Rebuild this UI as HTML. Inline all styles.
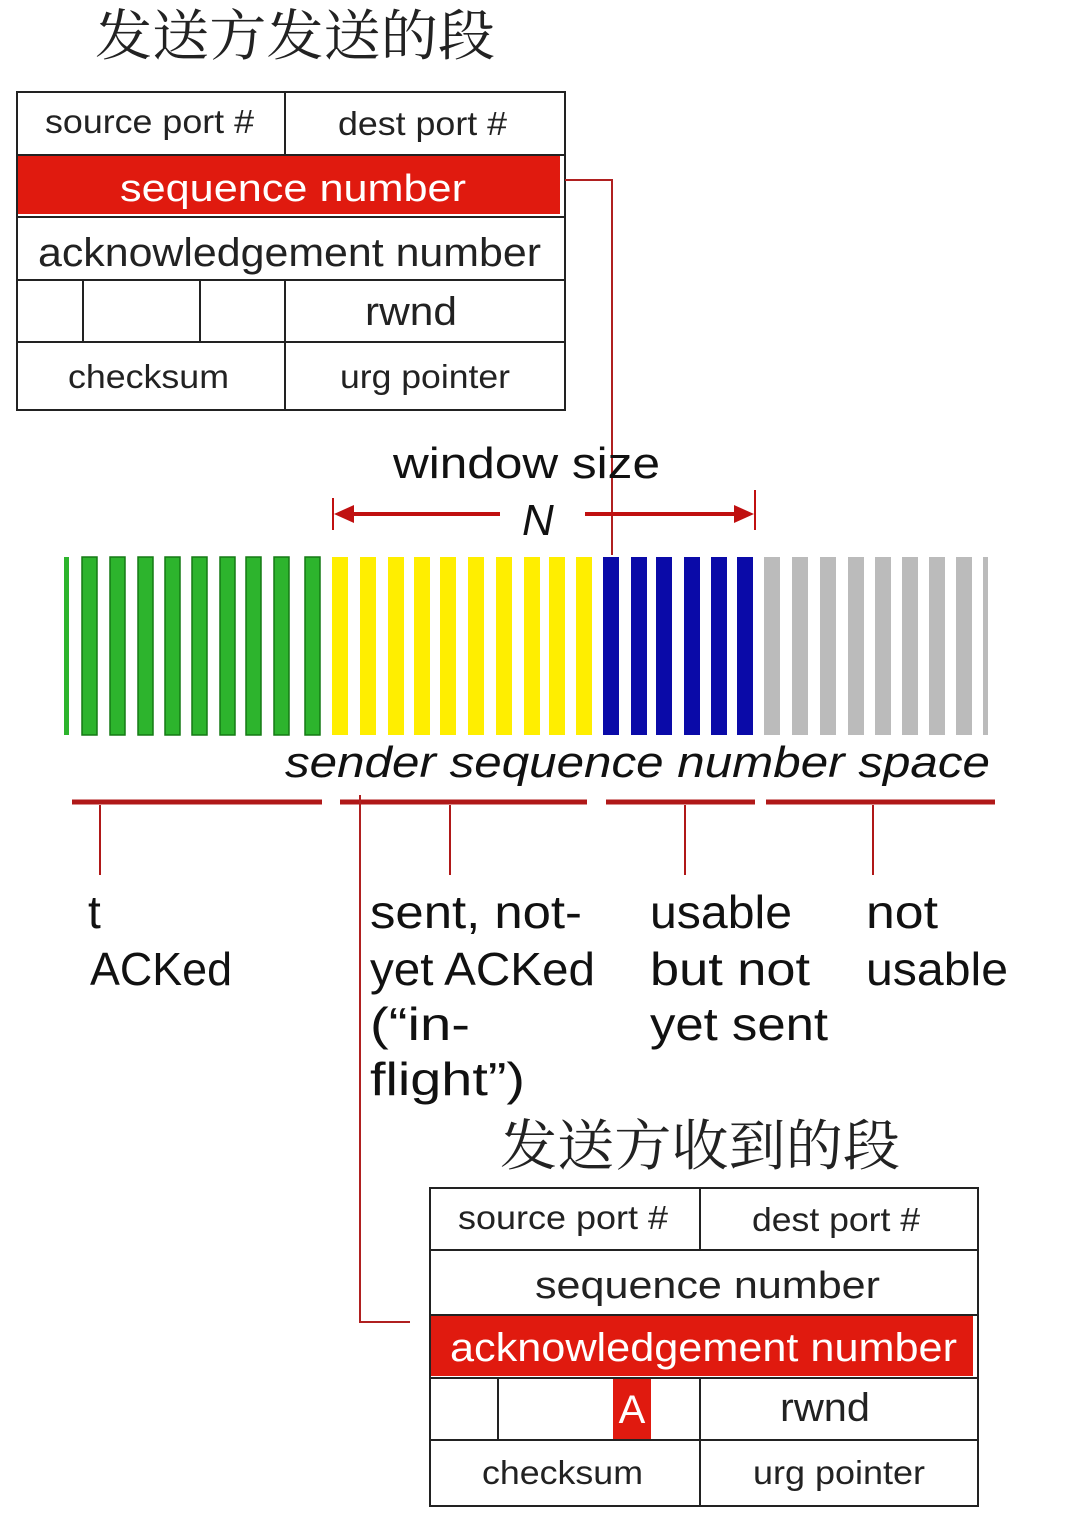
<!DOCTYPE html>
<html><head><meta charset="utf-8"><style>
body{margin:0;background:#fff;}
svg{display:block}
text{font-family:"Liberation Sans","Noto Sans CJK SC",sans-serif;}
</style></head><body>
<svg width="1076" height="1520" viewBox="0 0 1076 1520" xmlns="http://www.w3.org/2000/svg">
<text x="95" y="55" font-size="55" fill="#222" textLength="400" lengthAdjust="spacingAndGlyphs" style="font-family:'Noto Serif CJK SC',serif">发送方发送的段</text>
<!-- top table -->
<g stroke="#222" stroke-width="2" fill="none">
<rect x="17" y="92" width="548" height="318"/>
<line x1="17" y1="155" x2="565" y2="155"/><line x1="17" y1="217" x2="565" y2="217"/>
<line x1="17" y1="280" x2="565" y2="280"/><line x1="17" y1="342" x2="565" y2="342"/>
<line x1="285" y1="92" x2="285" y2="155"/><line x1="285" y1="280" x2="285" y2="410"/>
<line x1="83" y1="280" x2="83" y2="342"/><line x1="200" y1="280" x2="200" y2="342"/>
</g>
<rect x="18" y="156" width="542" height="58" fill="#e01a0f"/>
<g font-size="33" fill="#222" lengthAdjust="spacingAndGlyphs">
<text x="45" y="133" textLength="209" lengthAdjust="spacingAndGlyphs">source port #</text>
<text x="338" y="135" textLength="169" lengthAdjust="spacingAndGlyphs">dest port #</text>
<text x="120" y="201" fill="#fff" font-size="38" textLength="346" lengthAdjust="spacingAndGlyphs">sequence number</text>
<text x="38" y="266" font-size="40" textLength="503" lengthAdjust="spacingAndGlyphs">acknowledgement number</text>
<text x="365" y="325" font-size="40" textLength="92" lengthAdjust="spacingAndGlyphs">rwnd</text>
<text x="68" y="388" textLength="161" lengthAdjust="spacingAndGlyphs">checksum</text>
<text x="340" y="388" textLength="170" lengthAdjust="spacingAndGlyphs">urg pointer</text>
</g>
<polyline points="565,180 612,180 612,555" stroke="#b02020" stroke-width="2" fill="none"/>
<text x="393" y="478" font-size="44" fill="#111" textLength="267" lengthAdjust="spacingAndGlyphs">window size</text>
<text x="522" y="535" font-size="44" font-style="italic" fill="#111">N</text>
<g stroke="#c01010" stroke-width="4" fill="#c01010">
<line x1="333" y1="498" x2="333" y2="530" stroke-width="2"/><line x1="755" y1="490" x2="755" y2="530" stroke-width="2"/>
<line x1="345" y1="514" x2="500" y2="514"/><line x1="585" y1="514" x2="743" y2="514"/>
<polygon points="334,514 354,505 354,523" stroke="none"/><polygon points="754,514 734,505 734,523" stroke="none"/>
</g>
<g>
<rect x="64" y="557" width="5" height="178" fill="#2db42d"/>
<g fill="#2db42d" stroke="#157a15" stroke-width="1.5">
<rect x="82" y="557" width="15" height="178"/><rect x="110" y="557" width="15" height="178"/><rect x="138" y="557" width="15" height="178"/><rect x="165" y="557" width="15" height="178"/><rect x="192" y="557" width="15" height="178"/><rect x="220" y="557" width="15" height="178"/><rect x="246" y="557" width="15" height="178"/><rect x="274" y="557" width="15" height="178"/><rect x="305" y="557" width="15" height="178"/>
</g>
<g fill="#ffee00">
<rect x="332" y="557" width="16" height="178"/><rect x="360" y="557" width="16" height="178"/><rect x="388" y="557" width="16" height="178"/><rect x="414" y="557" width="16" height="178"/><rect x="440" y="557" width="16" height="178"/><rect x="468" y="557" width="16" height="178"/><rect x="496" y="557" width="16" height="178"/><rect x="524" y="557" width="16" height="178"/><rect x="549" y="557" width="16" height="178"/><rect x="576" y="557" width="16" height="178"/>
</g>
<g fill="#0a0aa8">
<rect x="603" y="557" width="16" height="178"/><rect x="631" y="557" width="16" height="178"/><rect x="656" y="557" width="16" height="178"/><rect x="684" y="557" width="16" height="178"/><rect x="711" y="557" width="16" height="178"/><rect x="737" y="557" width="16" height="178"/>
</g>
<g fill="#bbbbbb">
<rect x="764" y="557" width="16" height="178"/><rect x="792" y="557" width="16" height="178"/><rect x="820" y="557" width="16" height="178"/><rect x="848" y="557" width="16" height="178"/><rect x="875" y="557" width="16" height="178"/><rect x="902" y="557" width="16" height="178"/><rect x="929" y="557" width="16" height="178"/><rect x="956" y="557" width="16" height="178"/><rect x="983" y="557" width="5" height="178"/>
</g>
</g>
<text x="285" y="777" font-size="44" font-style="italic" fill="#111" textLength="705" lengthAdjust="spacingAndGlyphs">sender sequence number space</text>
<g stroke="#b01818" stroke-width="5">
<line x1="72" y1="802" x2="322" y2="802"/><line x1="340" y1="802" x2="587" y2="802"/><line x1="606" y1="802" x2="755" y2="802"/><line x1="766" y1="802" x2="995" y2="802"/>
</g>
<g stroke="#b01818" stroke-width="2">
<line x1="100" y1="805" x2="100" y2="875"/><line x1="450" y1="805" x2="450" y2="875"/><line x1="685" y1="805" x2="685" y2="875"/><line x1="873" y1="805" x2="873" y2="875"/>
</g>
<polyline points="360,795 360,1322 410,1322" stroke="#b02020" stroke-width="2" fill="none"/>
<g font-size="46" fill="#111">
<text x="88" y="928">t</text><text x="90" y="985" textLength="142" lengthAdjust="spacingAndGlyphs">ACKed</text>
<text x="370" y="928" textLength="212" lengthAdjust="spacingAndGlyphs">sent, not-</text>
<text x="370" y="985" textLength="225" lengthAdjust="spacingAndGlyphs">yet ACKed</text>
<text x="370" y="1040" textLength="100" lengthAdjust="spacingAndGlyphs">(“in-</text>
<text x="370" y="1095" textLength="155" lengthAdjust="spacingAndGlyphs">flight”)</text>
<text x="650" y="928" textLength="142" lengthAdjust="spacingAndGlyphs">usable</text>
<text x="650" y="985" textLength="160" lengthAdjust="spacingAndGlyphs">but not</text>
<text x="650" y="1040" textLength="178" lengthAdjust="spacingAndGlyphs">yet sent</text>
<text x="866" y="928" textLength="72" lengthAdjust="spacingAndGlyphs">not</text>
<text x="866" y="985" textLength="142" lengthAdjust="spacingAndGlyphs">usable</text>
</g>
<text x="500" y="1165" font-size="55" fill="#222" textLength="400" lengthAdjust="spacingAndGlyphs" style="font-family:'Noto Serif CJK SC',serif">发送方收到的段</text>
<rect x="431" y="1316" width="542" height="60" fill="#e01a0f"/>
<rect x="613" y="1379" width="38" height="60" fill="#e01a0f"/>
<g stroke="#222" stroke-width="2" fill="none">
<rect x="430" y="1188" width="548" height="318"/>
<line x1="430" y1="1250" x2="978" y2="1250"/><line x1="430" y1="1315" x2="978" y2="1315"/>
<line x1="430" y1="1378" x2="978" y2="1378"/><line x1="430" y1="1440" x2="978" y2="1440"/>
<line x1="700" y1="1188" x2="700" y2="1250"/><line x1="700" y1="1378" x2="700" y2="1506"/>
<line x1="498" y1="1378" x2="498" y2="1440"/>
</g>
<g font-size="33" fill="#222">
<text x="458" y="1229" textLength="210" lengthAdjust="spacingAndGlyphs">source port #</text>
<text x="752" y="1231" textLength="168" lengthAdjust="spacingAndGlyphs">dest port #</text>
<text x="535" y="1298" font-size="38" textLength="345" lengthAdjust="spacingAndGlyphs">sequence number</text>
<text x="450" y="1361" fill="#fff" font-size="40" textLength="507" lengthAdjust="spacingAndGlyphs">acknowledgement number</text>
<text x="632" y="1423" fill="#fff" font-size="40" text-anchor="middle">A</text>
<text x="780" y="1421" font-size="40" textLength="90" lengthAdjust="spacingAndGlyphs">rwnd</text>
<text x="482" y="1484" textLength="161" lengthAdjust="spacingAndGlyphs">checksum</text>
<text x="753" y="1484" textLength="172" lengthAdjust="spacingAndGlyphs">urg pointer</text>
</g>
</svg>
</body></html>
